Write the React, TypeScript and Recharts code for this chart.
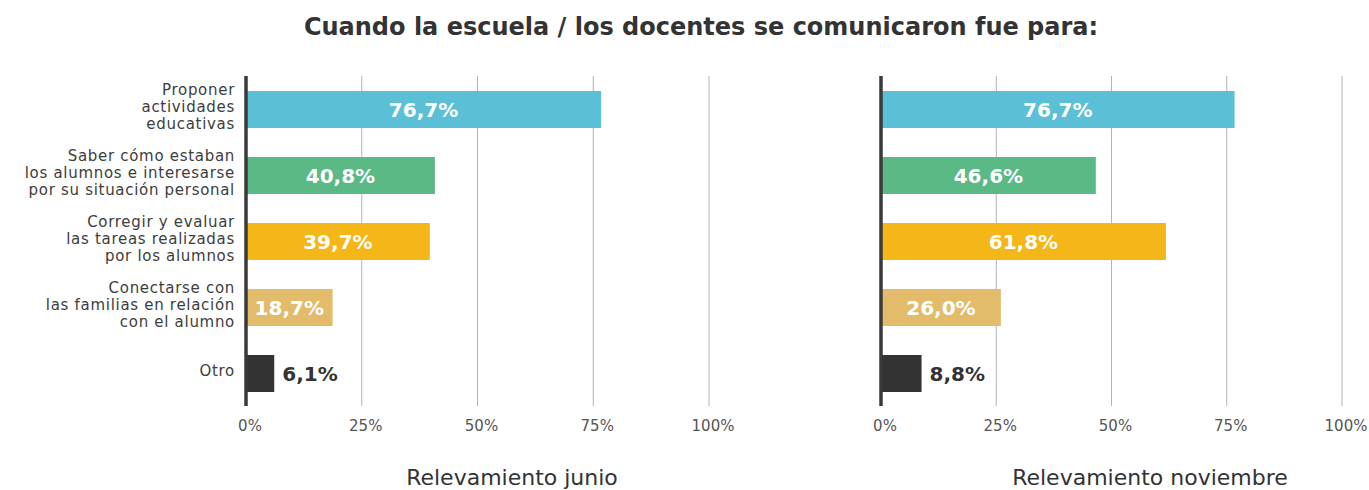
import React from 'react';
import { BarChart, Bar, XAxis, YAxis, CartesianGrid, Cell, LabelList } from 'recharts';

const categories = [
  'Proponer\nactividades\neducativas',
  'Saber cómo estaban\nlos alumnos e interesarse\npor su situación personal',
  'Corregir y evaluar\nlas tareas realizadas\npor los alumnos',
  'Conectarse con\nlas familias en relación\ncon el alumno',
  'Otro',
];
const juneValues = [76.7, 40.8, 39.7, 18.7, 6.1];
const novValues = [76.7, 46.6, 61.8, 26.0, 8.8];
const barColors = ['#5bbfd6', '#5bb985', '#f5b617', '#e2bc6b', '#333333'];
const xTicks = [0, 25, 50, 75, 100];

const FONT = '"DejaVu Sans", sans-serif';

const fmt = (v: number) => v.toFixed(1).replace('.', ',') + '%';

const CategoryTick = (props: any) => {
  const { x, y, payload } = props;
  const lines = String(payload.value).split('\n');
  const lh = 16.8;
  const start = y - 2 - ((lines.length - 1) * lh) / 2;
  return (
    <text textAnchor="end" fontSize={15} letterSpacing={0.7} fill="#3d3d3d" fontFamily={FONT}>
      {lines.map((l, i) => (
        <tspan key={i} x={x - 3} y={start + i * lh} dominantBaseline="central">
          {l}
        </tspan>
      ))}
    </text>
  );
};

const BarLabel = (props: any) => {
  const { x, y, width, height, value } = props;
  const cy = y + height / 2;
  if (value < 10) {
    return (
      <text x={x + width + 8} y={cy} dominantBaseline="central" fill="#333" fontWeight="bold" fontSize={20} fontFamily={FONT}>
        {fmt(value)}
      </text>
    );
  }
  return (
    <text x={x + width / 2} y={cy} textAnchor="middle" dominantBaseline="central" fill="#fff" fontWeight="bold" fontSize={20} fontFamily={FONT}>
      {fmt(value)}
    </text>
  );
};

interface PanelProps {
  values: number[];
  withCategories: boolean;
  width: number;
  yWidth: number;
}

const Panel: React.FC<PanelProps> = ({ values, withCategories, width, yWidth }) => {
  const data = categories.map((c, i) => ({ name: c, value: values[i] }));
  return (
    <BarChart
      layout="vertical"
      width={width}
      height={440}
      data={data}
      margin={{ top: 76, right: width - (withCategories ? 709 : 482), left: withCategories ? 6 : 0, bottom: 4 }}
    >
      <CartesianGrid horizontal={false} stroke="#b3b3b3" />
      <XAxis
        type="number"
        domain={[0, 100]}
        ticks={xTicks}
        tickFormatter={(v) => v + '%'}
        axisLine={false}
        tickLine={false}
        tickMargin={8}
        height={30}
        tick={{ fontSize: 15, fill: '#555', fontFamily: FONT, dx: 4 }}
      />
      <YAxis
        type="category"
        dataKey="name"
        width={yWidth}
        axisLine={{ stroke: '#3a3a3a', strokeWidth: 3.5 }}
        tickLine={false}
        tick={withCategories ? <CategoryTick /> : false}
        interval={0}
      />
      <Bar dataKey="value" barSize={37} isAnimationActive={false}>
        {data.map((d, i) => (
          <Cell key={`cell-${i}`} fill={barColors[i]} />
        ))}
        <LabelList dataKey="value" content={<BarLabel />} />
      </Bar>
    </BarChart>
  );
};

export default function App() {
  return (
    <div style={{ position: 'absolute', left: 0, top: 0, width: 1369, height: 490, background: '#fff', overflow: 'hidden', fontFamily: FONT }}>
      <div style={{ position: 'absolute', top: 13, left: 0, width: 1402, textAlign: 'center', fontSize: 24, fontWeight: 'bold', color: '#333' }}>
        Cuando la escuela / los docentes se comunicaron fue para:
      </div>
      <div style={{ position: 'absolute', left: 0, top: 0 }}>
        <Panel values={juneValues} withCategories={true} width={760} yWidth={240} />
      </div>
      <div style={{ position: 'absolute', left: 860, top: 0 }}>
        <Panel values={novValues} withCategories={false} width={509} yWidth={21} />
      </div>
      <div style={{ position: 'absolute', top: 465, left: 312, width: 400, textAlign: 'center', fontSize: 22, color: '#333' }}>
        Relevamiento junio
      </div>
      <div style={{ position: 'absolute', top: 465, left: 950, width: 400, textAlign: 'center', fontSize: 22, color: '#333' }}>
        Relevamiento noviembre
      </div>
    </div>
  );
}
